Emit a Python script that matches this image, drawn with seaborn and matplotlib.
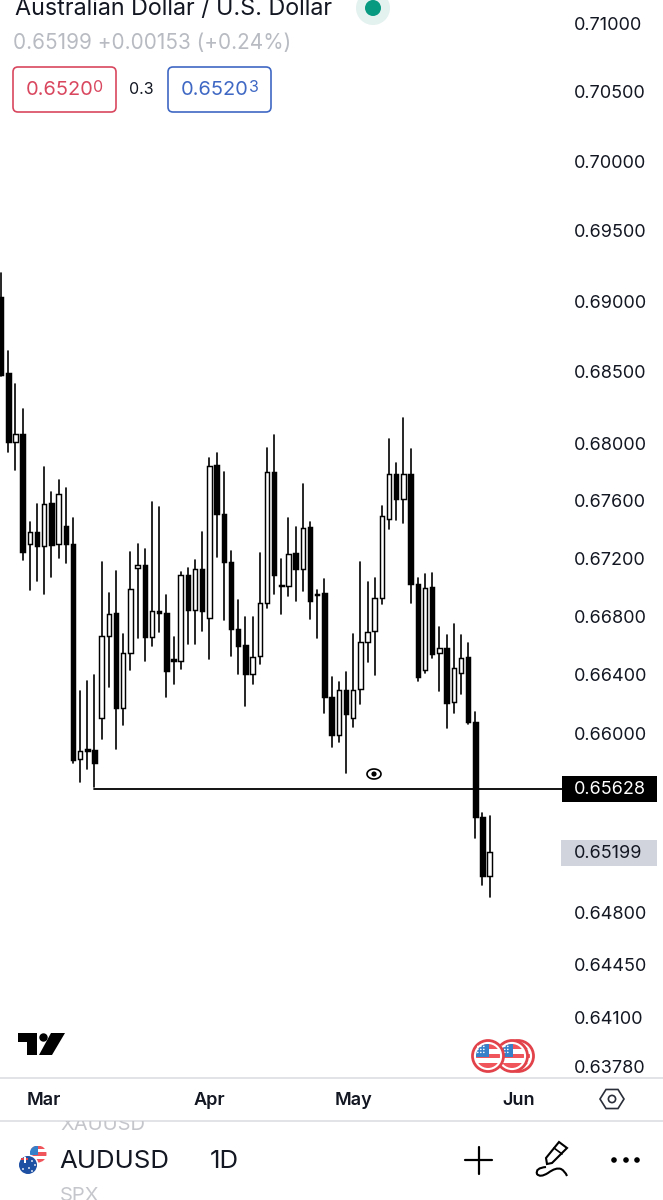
import pandas as pd
import numpy as np
import matplotlib
matplotlib.use("Agg")
import matplotlib.pyplot as plt
import seaborn as sns
from matplotlib.patches import Circle, FancyBboxPatch, Polygon, Rectangle
from matplotlib.path import Path
from matplotlib.patches import PathPatch
from matplotlib.transforms import Bbox, TransformedBbox

# Daily AUDUSD candles
opens = [0.69028, 0.68493, 0.68007, 0.68063, 0.67296, 0.67379, 0.67282, 0.67586, 0.67296, 0.67420,
         0.67296, 0.65826, 0.65893, 0.65886, 0.66103, 0.66668, 0.66820, 0.66172, 0.66551, 0.67131,
         0.67151, 0.66661, 0.66834, 0.66820, 0.66510, 0.66496, 0.67082, 0.66841, 0.67124, 0.66792,
         0.67848, 0.67510, 0.67172, 0.66710, 0.66606, 0.66406, 0.66530, 0.66889, 0.67800, 0.67013,
         0.67006, 0.67234, 0.67124, 0.67414, 0.66951, 0.66958, 0.66247, 0.65993, 0.66296, 0.66109,
         0.66303, 0.66627, 0.66703, 0.66924, 0.67469, 0.67786, 0.67614, 0.67786, 0.67020, 0.66434,
         0.67000, 0.66551, 0.66586, 0.66213, 0.66413, 0.66523, 0.66082, 0.65437, 0.65042]
closes = [0.68479, 0.68007, 0.68063, 0.67241, 0.67379, 0.67282, 0.67579, 0.67289, 0.67648, 0.67296,
          0.65819, 0.65879, 0.65879, 0.65799, 0.66668, 0.66813, 0.66172, 0.66551, 0.66986, 0.67151,
          0.66661, 0.66834, 0.66820, 0.66427, 0.66496, 0.67082, 0.66841, 0.67124, 0.66834, 0.67841,
          0.67510, 0.67172, 0.66710, 0.66599, 0.66406, 0.66523, 0.66889, 0.67800, 0.67082, 0.67006,
          0.67227, 0.67124, 0.67407, 0.66903, 0.66944, 0.66247, 0.65993, 0.66296, 0.66130, 0.66296,
          0.66627, 0.66696, 0.66924, 0.67496, 0.67786, 0.67614, 0.67786, 0.67020, 0.66385, 0.66993,
          0.66544, 0.66586, 0.66206, 0.66448, 0.66517, 0.66082, 0.65437, 0.65042, 0.65199]
highs = [0.69200, 0.68650, 0.68416, 0.68240, 0.67448, 0.67579, 0.67834, 0.67662, 0.67745, 0.67690,
         0.67476, 0.66289, 0.66358, 0.66399, 0.67172, 0.66958, 0.67110, 0.66682, 0.67241, 0.67296,
         0.67262, 0.67593, 0.67558, 0.66944, 0.66661, 0.67103, 0.67131, 0.67186, 0.67379, 0.67897,
         0.67931, 0.67800, 0.67248, 0.66910, 0.66799, 0.66799, 0.67234, 0.67965, 0.68056, 0.67193,
         0.67476, 0.67414, 0.67717, 0.67448, 0.66979, 0.67055, 0.66385, 0.66351, 0.66420, 0.66682,
         0.67172, 0.67034, 0.67062, 0.67565, 0.68028, 0.67862, 0.68176, 0.67959, 0.67062, 0.67089,
         0.67096, 0.66730, 0.66675, 0.66751, 0.66675, 0.66620, 0.66144, 0.65464, 0.65444]
lows = [0.68472, 0.67938, 0.67814, 0.67186, 0.66979, 0.67041, 0.66951, 0.67069, 0.67200, 0.67165,
        0.65799, 0.65672, 0.65759, 0.65638, 0.65960, 0.66316, 0.65893, 0.66061, 0.66434, 0.66655,
        0.66496, 0.66599, 0.66696, 0.66247, 0.66337, 0.66441, 0.66613, 0.66613, 0.66703, 0.66510,
        0.67207, 0.66772, 0.66530, 0.66406, 0.66185, 0.66337, 0.66475, 0.66855, 0.66951, 0.66813,
        0.66937, 0.66903, 0.66972, 0.66779, 0.66655, 0.66137, 0.65906, 0.65946, 0.65732, 0.66047,
        0.66199, 0.66489, 0.66399, 0.66882, 0.67400, 0.67462, 0.67441, 0.66889, 0.66358, 0.66413,
        0.66517, 0.66289, 0.66040, 0.66137, 0.66268, 0.66068, 0.65296, 0.64982, 0.64901]

price_ticks = [0.71000, 0.70500, 0.70000, 0.69500, 0.69000, 0.68500, 0.68000, 0.67600, 0.67200,
               0.66800, 0.66400, 0.66000, 0.64800, 0.64450, 0.64100, 0.63780]
month_labels = ["Mar", "Apr", "May", "Jun"]
month_candles = [6, 29, 49, 72]
level_price = 0.65628
level_candles = [13, 78.07]
last_price = 0.65199

FONT = "Inter"
INK = "#131722"

sns.set_theme(style="white")
plt.rcParams["font.family"] = [FONT, "DejaVu Sans"]

candles = pd.DataFrame({"open": opens, "close": closes, "high": highs, "low": lows})
candles["candle"] = candles.index
wicks = candles.melt(id_vars="candle", value_vars=["high", "low"], value_name="price")
level = pd.DataFrame({"candle": level_candles, "price": [level_price, level_price]})

fig = plt.figure(figsize=(6.63, 12), dpi=100, facecolor="white")
ax = fig.add_axes([0, (1200 - 1077) / 1200, 562 / 663, 1077 / 1200])

ax.set_yscale("log")

# Wicks and the drawn level
sns.lineplot(data=wicks, x="candle", y="price", units="candle", estimator=None,
             color="black", linewidth=1.2, ax=ax, zorder=2)
sns.lineplot(data=level, x="candle", y="price", color="black", linewidth=1.3, ax=ax, zorder=4)

# Candle bodies, white when the day closed up
up = candles["close"] >= candles["open"]
bottoms = candles[["open", "close"]].min(axis=1)
heights = (candles["close"] - candles["open"]).abs()
ax.bar(candles["candle"], heights, bottom=bottoms, width=0.62, zorder=3,
       color=["white" if u else "black" for u in up], edgecolor="black", linewidth=1.05)

ax.set_xlim(-0.153, 78.07)
ax.set_ylim(0.63711, 0.71169)
ax.set_xlabel("")
ax.set_ylabel("")
ax.yaxis.tick_right()
ax.set_yticks(price_ticks, [f"{p:.5f}" for p in price_ticks])
ax.yaxis.set_minor_locator(plt.NullLocator())
ax.yaxis.set_minor_formatter(plt.NullFormatter())
ax.tick_params(axis="y", length=0, pad=8.5, labelsize=13, labelcolor=INK)
ax.set_xticks(month_candles, month_labels)
ax.tick_params(axis="x", length=0, pad=10.6, labelsize=13, labelcolor=INK)
for label in ax.get_xticklabels():
    label.set_fontweight("semibold")
sns.despine(ax=ax, left=True, right=True, top=True, bottom=True)

# Everything around the chart is app chrome, drawn in pixel coordinates
ov = fig.add_axes([0, 0, 1, 1], facecolor="none")
ov.set_xlim(0, 663)
ov.set_ylim(1200, 0)
ov.axis("off")

ov.plot([0, 663], [1077.5, 1077.5], color="#dcdee3", lw=1.2)
ov.plot([0, 663], [1120.5, 1120.5], color="#dcdee3", lw=1.2)

# Header
ov.text(15, 9, "Australian Dollar / U.S. Dollar", fontsize=16.8, color=INK, va="center", ha="left")
ov.add_patch(Circle((373, 8), 17, color="#e3f1ef", lw=0))
ov.add_patch(Circle((373, 8), 8, color="#089981", lw=0))
ov.text(13, 43, "0.65199 +0.00153 (+0.24%)", fontsize=14.9, color="#b8bbc2", va="center", ha="left")

RED = "#d9475f"
BLUE = "#3f68c4"
for x0, col, main, sup, sup_x in [(13, RED, "0.6520", "0", 93), (168, BLUE, "0.6520", "3", 249)]:
    ov.add_patch(FancyBboxPatch((x0, 67), 103, 45, boxstyle="round,pad=0,rounding_size=5",
                                fc="white", ec=col, lw=1.2))
    ov.text(x0 + 12.5, 90, main, fontsize=14.4, color=col, va="center", ha="left")
    ov.text(sup_x, 88, sup, fontsize=11.5, color=col, va="center", ha="left")
ov.text(129, 90, "0.3", fontsize=11.5, color=INK, va="center", ha="left")

# Price badges
ov.add_patch(Rectangle((562, 776), 95, 26, color="black", lw=0))
ov.text(574, 789.5, f"{level_price:.5f}", fontsize=13, color="white", va="center", ha="left")
ov.add_patch(Rectangle((561, 840), 96, 26, color="#d1d4dc", lw=0))
ov.text(574, 853.5, f"{last_price:.5f}", fontsize=13, color=INK, va="center", ha="left")

# Eye on the level line
ex, ey = 374, 774
eye = np.linspace(0, np.pi, 20)
top = list(zip(ex - 7 * np.cos(eye), ey - 5 * np.sin(eye)))
bot = list(zip(ex + 7 * np.cos(eye), ey + 5 * np.sin(eye)))
ov.add_patch(Polygon(top + bot, closed=True, fc="white", ec="black", lw=1.2))
ov.add_patch(Circle((ex, ey), 2.6, color="black", lw=0))

# TradingView mark
ov.add_patch(Polygon([(18, 1033), (37, 1033), (37, 1055), (27, 1055), (27, 1042), (18, 1042)],
                     closed=True, color="black", lw=0))
ov.add_patch(Circle((43.5, 1037.5), 4.2, color="black", lw=0))
ov.add_patch(Polygon([(51, 1033), (65, 1033), (52, 1055), (39, 1055)], closed=True, color="black", lw=0))


def us_flag(cx, cy, r, z, ring=True):
    if ring:
        ov.add_patch(Circle((cx, cy), r, fc="white", ec="#e2434b", lw=2.0, zorder=z))
        fr = r - 3.5
    else:
        ov.add_patch(Circle((cx, cy), r, fc="white", lw=0, zorder=z))
        fr = r
    inner = Circle((cx, cy), fr, transform=ov.transData)
    step = 2 * fr / 5
    for k in range(5):
        band = Rectangle((cx - fr, cy - fr + k * step), 2 * fr, step, zorder=z + 0.1, lw=0,
                         color="#f0555c" if k % 2 == 0 else "white")
        ov.add_patch(band)
        band.set_clip_path(inner)
    canton = Rectangle((cx - fr, cy - fr), fr * 1.05, fr * 1.1, color="#3580c8", zorder=z + 0.2, lw=0)
    ov.add_patch(canton)
    canton.set_clip_path(inner)
    if ring:
        for dx in (0.35, 0.6, 0.85):
            for dy in (0.3, 0.55, 0.8):
                ov.add_patch(Circle((cx - fr * dx, cy - fr * dy), 0.8, color="white", lw=0, zorder=z + 0.3))


us_flag(518, 1056, 15.5, 10)
us_flag(512, 1056, 15.5, 11)
us_flag(488, 1056, 15.5, 12)

# Hexagon settings button
ang = np.radians(np.arange(0, 360, 60))
ov.add_patch(Polygon(list(zip(612 + 12 * np.cos(ang), 1099 + 11 * np.sin(ang))), closed=True,
                     fc="none", ec="#2a2e39", lw=1.2))
ov.add_patch(Circle((612, 1099), 3.6, fc="none", ec="#2a2e39", lw=1.2))

# Bottom bar
xau = ov.text(60, 1125, "XAUUSD", fontsize=14.5, color="#c4c6cc", va="center", ha="left")
xau.set_clip_box(TransformedBbox(Bbox([[0, 1121], [663, 1200]]), ov.transData))
xau.set_clip_on(True)
ov.text(60, 1196, "SPX", fontsize=14.5, color="#c4c6cc", va="center", ha="left")
ov.text(59, 1161, "AUDUSD", fontsize=18.6, color=INK, va="center", ha="left")
ov.text(210, 1161, "1D", fontsize=18.6, color=INK, va="center", ha="left")

# Pair icon: US flag behind, Australian disc in front
us_flag(38, 1154, 8.5, 5, ring=False)
ov.add_patch(Circle((28, 1165), 10.5, color="white", lw=0, zorder=6))
ov.add_patch(Circle((28, 1165), 9, color="#1d4fa3", lw=0, zorder=7))
ov.add_patch(Rectangle((21, 1158), 7, 1.6, color="#e2434b", lw=0, zorder=8))
ov.add_patch(Rectangle((24, 1156.5), 1.6, 6, color="white", lw=0, zorder=8))
for star_x, star_y in [(32, 1161), (35, 1165), (29, 1168), (32, 1171), (23, 1169)]:
    ov.add_patch(Circle((star_x, star_y), 0.9, color="white", lw=0, zorder=8))

ov.plot([465, 492], [1160, 1160], color="black", lw=1.6)
ov.plot([478.5, 478.5], [1147, 1174], color="black", lw=1.6)

pen = Path([(559, 1142), (567, 1148), (552, 1163), (547, 1164), (546, 1158), (559, 1142)],
           [Path.MOVETO, Path.LINETO, Path.LINETO, Path.LINETO, Path.LINETO, Path.CLOSEPOLY])
ov.add_patch(PathPatch(pen, fc="none", ec="black", lw=1.5))
ov.plot([554, 562], [1148, 1154], color="black", lw=1.2)
swoosh = Path([(546, 1167), (535, 1168), (537, 1174), (540, 1178), (548, 1173),
               (556, 1167), (561, 1169), (565, 1171), (567, 1176)],
              [Path.MOVETO, Path.CURVE3, Path.CURVE3, Path.CURVE3, Path.CURVE3,
               Path.CURVE3, Path.CURVE3, Path.CURVE3, Path.CURVE3])
ov.add_patch(PathPatch(swoosh, fc="none", ec="black", lw=1.5))

for dot_x in [614, 626, 637]:
    ov.add_patch(Circle((dot_x, 1160), 2.8, color="black", lw=0))

fig.savefig("out.png", dpi=100, facecolor="white")
